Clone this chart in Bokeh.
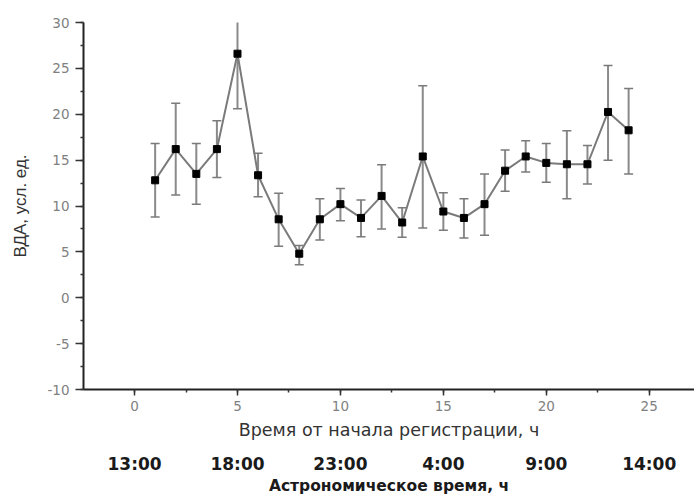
from bokeh.plotting import figure
from bokeh.models import (ColumnDataSource, Range1d, LinearAxis, FixedTicker,
                          SingleIntervalTicker)
from bokeh.embed import file_html
from bokeh.resources import INLINE

# ---- data ----
hours = list(range(1, 25))
vda = [12.8, 16.2, 13.5, 16.2, 26.6, 13.35, 8.55, 4.8, 8.55, 10.2, 8.7, 11.1,
       8.2, 15.4, 9.4, 8.7, 10.2, 13.85, 15.4, 14.7, 14.55, 14.55, 20.25, 18.25]
vda_upper = [16.8, 21.2, 16.8, 19.3, 32.6, 15.75, 11.4, 5.7, 10.8, 11.9, 10.65, 14.5,
             9.8, 23.1, 11.45, 10.8, 13.5, 16.1, 17.1, 16.8, 18.2, 16.6, 25.3, 22.8]
vda_lower = [8.8, 11.2, 10.2, 13.1, 20.6, 11.0, 5.6, 3.6, 6.3, 8.4, 6.65, 7.5,
             6.6, 7.6, 7.35, 6.5, 6.8, 11.6, 13.7, 12.6, 10.8, 12.4, 15.0, 13.5]

astro_ticks = [0, 5, 10, 15, 20, 25]
astro_labels = ["13:00", "18:00", "23:00", "4:00", "9:00", "14:00"]

src = ColumnDataSource(dict(x=hours, y=vda, upper=vda_upper, lower=vda_lower))

p = figure(width=694, height=497, output_backend="svg", toolbar_location=None,
           x_range=Range1d(-2.48, 27.2), y_range=Range1d(-10, 30),
           min_border_left=83, min_border_right=0, min_border_top=22,
           min_border_bottom=108, x_axis_location="below")
p.outline_line_color = None
p.grid.visible = False
p.background_fill_color = "white"
p.border_fill_color = "white"

# error bars
p.segment(x0="x", y0="lower", x1="x", y1="upper", source=src,
          line_color="#8a8a8a", line_width=2)
p.dash(x="x", y="upper", source=src, size=9, line_color="#7a7a7a", line_width=1.5)
p.dash(x="x", y="lower", source=src, size=9, line_color="#7a7a7a", line_width=1.5)
# line + markers
p.line(x="x", y="y", source=src, line_color="#7a7a7a", line_width=2)
p.scatter(x="x", y="y", source=src, marker="square", size=7,
          fill_color="black", line_color="black")

tick_color = "#808080"
for ax in (p.xaxis[0], p.yaxis[0]):
    ax.axis_line_color = "#222222"
    ax.axis_line_width = 2
    ax.major_tick_line_color = "#333333"
    ax.minor_tick_line_color = "#333333"
    ax.major_tick_line_width = 1.5
    ax.minor_tick_line_width = 1.5
    ax.major_tick_in = 0
    ax.minor_tick_in = 0
    ax.major_label_text_font = "DejaVu Sans"
    ax.major_label_text_font_size = "13.5px"
    ax.major_label_text_color = tick_color
    ax.axis_label_text_font_style = "normal"
    ax.axis_label_text_color = "#333333"

xa = p.xaxis[0]
xa.ticker = SingleIntervalTicker(interval=5, num_minor_ticks=2)
xa.major_tick_out = 6
xa.minor_tick_out = 3
xa.major_label_standoff = 5
xa.axis_label = "Время от начала регистрации, ч"
xa.axis_label_text_font = "DejaVu Sans"
xa.axis_label_text_font_size = "17.5px"
xa.axis_label_standoff = 6

ya = p.yaxis[0]
ya.ticker = SingleIntervalTicker(interval=5, num_minor_ticks=2)
ya.major_tick_out = 8
ya.minor_tick_out = 3
ya.major_label_standoff = 6
ya.major_label_overrides = {-5: "-5", -10: "-10"}
ya.axis_label = "ВДА, усл. ед."
ya.axis_label_text_font = "Liberation Sans"
ya.axis_label_text_font_size = "17px"
ya.axis_label_standoff = 14

astro = LinearAxis(ticker=FixedTicker(ticks=astro_ticks),
                   major_label_overrides={t: l for t, l in zip(astro_ticks, astro_labels)})
astro.axis_line_color = None
astro.major_tick_line_color = None
astro.minor_tick_line_color = None
astro.major_tick_out = 0
astro.major_tick_in = 0
astro.major_label_standoff = 11
astro.major_label_text_font = "DejaVu Sans"
astro.major_label_text_font_style = "bold"
astro.major_label_text_font_size = "17px"
astro.major_label_text_color = "#1a1a1a"
astro.axis_label = "Астрономическое время, ч"
astro.axis_label_text_font = "DejaVu Sans"
astro.axis_label_text_font_style = "bold"
astro.axis_label_text_font_size = "15.5px"
astro.axis_label_text_color = "#1a1a1a"
astro.axis_label_standoff = 0
p.add_layout(astro, "below")

open("out.html", "w").write(file_html(p, INLINE))
